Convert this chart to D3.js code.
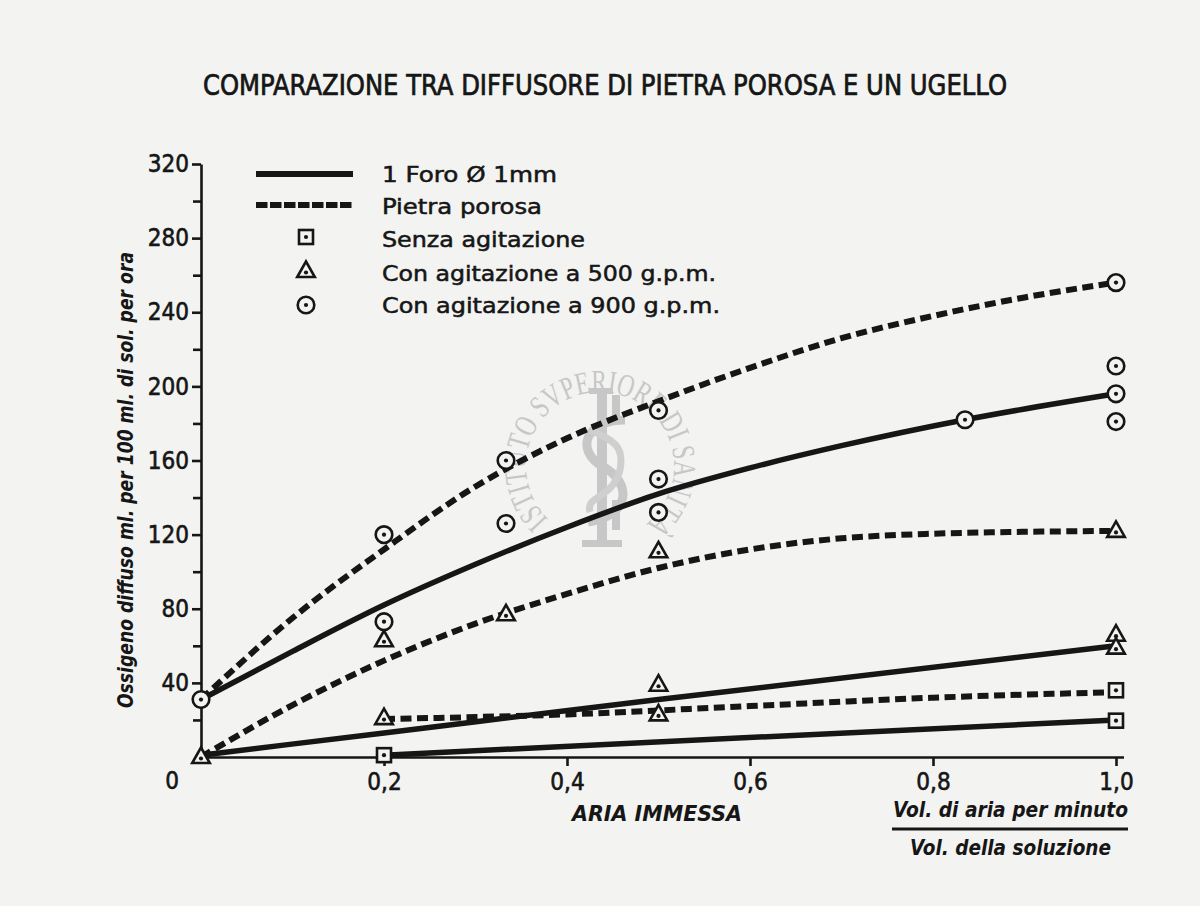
<!DOCTYPE html>
<html><head><meta charset="utf-8">
<script src="https://cdn.jsdelivr.net/npm/d3@7"></script>
<style>
body{margin:0;background:#f3f3f2}
svg{display:block}
</style>
</head><body>
<svg id="chart" width="1200" height="906"></svg>
<script>
// ---------- data ----------
const titleText = "COMPARAZIONE TRA DIFFUSORE DI PIETRA POROSA E UN UGELLO";
const yAxisTitle = "Ossigeno diffuso ml. per 100 ml. di sol. per ora";
const xAxisTitle = "ARIA IMMESSA";
const xUnitTop = "Vol. di aria per minuto";
const xUnitBottom = "Vol. della soluzione";

const xTicks = [0.2, 0.4, 0.6, 0.8, 1.0];
const xTickLabels = ["0,2", "0,4", "0,6", "0,8", "1,0"];
const yTicks = [40, 80, 120, 160, 200, 240, 280, 320];
const yMinorTicks = [20, 60, 100, 140, 180, 220, 260, 300];

// curves (solid = 1 Foro Ø1mm, dashed = Pietra porosa)
const foro900X = [0, 0.1, 0.2, 0.3, 0.4, 0.5, 0.6, 0.7, 0.835, 1.0];
const foro900Y = [31, 57, 82, 104, 124, 142, 156, 168, 182, 196];
const porosa900X = [0, 0.1, 0.2, 0.3, 0.4, 0.5, 0.6, 0.7, 0.8, 0.9, 1.0];
const porosa900Y = [31, 75, 112, 146, 172, 192, 210, 226, 238, 248, 256];
const porosa500X = [0, 0.1, 0.2, 0.3, 0.4, 0.5, 0.6, 0.7, 0.8, 0.9, 1.0];
const porosa500Y = [0, 28, 52, 72, 88, 102, 112, 118, 120.5, 121.5, 122];
const foro500X = [0, 0.2, 0.5, 1.0];
const foro500Y = [1, 13, 31, 60];
const porosaSenzaX = [0.2, 0.4, 0.6, 0.8, 1.0];
const porosaSenzaY = [20.5, 23, 27.5, 32, 35];
const foroSenzaX = [0.2, 1.0];
const foroSenzaY = [1, 20];

// measured points
const squareX = [0.2, 1.0, 1.0];
const squareY = [1, 36, 19.6];
const triangleX = [0, 0.2, 0.2, 1/3, 0.5, 0.5, 0.5, 1.0, 1.0, 1.0];
const triangleY = [0, 63, 21, 77, 111, 39, 23, 122, 66, 59];
const circleX = [0, 0.2, 0.2, 1/3, 1/3, 0.5, 0.5, 0.5, 0.835, 1.0, 1.0, 1.0, 1.0];
const circleY = [31, 120, 73, 160, 126, 187, 150, 132, 182, 256, 211, 196, 181];

const legendLabels = ["1 Foro \u00D8 1mm", "Pietra porosa", "Senza agitazione",
  "Con agitazione a 500 g.p.m.", "Con agitazione a 900 g.p.m."];

const watermarkText = "ISTITUTO SVPERIORE DI SANIT\u00C0";

// ---------- drawing ----------
const INK = "#161616";
const BG = "#f3f3f2";
const FONT = "'DejaVu Sans Condensed','DejaVu Sans',sans-serif";
const svg = d3.select("#chart");
svg.append("rect").attr("width", 1200).attr("height", 906).attr("fill", BG);

const x = d3.scaleLinear().domain([0, 1]).range([201, 1116]);
const y = d3.scaleLinear().domain([0, 320]).range([757, 164]);

// watermark
const wm = svg.append("g").attr("fill", "#c7c7c7");
{
  const cx = 600, cy = 466, r = 74;
  const a0 = 134 * Math.PI / 180, a1 = 412 * Math.PI / 180;
  const p0 = [cx + r * Math.cos(a0), cy + r * Math.sin(a0)];
  const p1 = [cx + r * Math.cos(a1), cy + r * Math.sin(a1)];
  svg.append("defs").append("path").attr("id", "wmArc")
    .attr("d", `M${p0[0]},${p0[1]} A${r},${r} 0 1 1 ${p1[0]},${p1[1]}`);
  wm.append("text").attr("font-family", "'Liberation Serif','DejaVu Serif',serif")
    .attr("font-size", 32)
    .append("textPath").attr("href", "#wmArc")
    .attr("textLength", 358).attr("lengthAdjust", "spacingAndGlyphs")
    .text(watermarkText);
  wm.append("rect").attr("x", 597).attr("y", 392).attr("width", 10).attr("height", 152);
  wm.append("rect").attr("x", 589).attr("y", 388).attr("width", 24).attr("height", 6);
  wm.append("rect").attr("x", 582).attr("y", 540).attr("width", 40).attr("height", 7);
  wm.append("rect").attr("x", 612).attr("y", 395).attr("width", 8).attr("height", 22);
  wm.append("rect").attr("x", 612).attr("y", 500).attr("width", 8).attr("height", 30);
  wm.append("path").attr("fill", "none").attr("stroke", "#c7c7c7").attr("stroke-width", 9)
    .attr("d", "M625,420 C585,420 575,450 602,466 C632,482 632,515 588,522");
  wm.append("path").attr("fill", "none").attr("stroke", "#cfcfcf").attr("stroke-width", 7)
    .attr("d", "M590,430 C612,440 625,445 620,470 C612,500 585,495 590,512");
}

// title
svg.append("text").attr("x", 203).attr("y", 95)
  .attr("font-family", FONT).attr("font-size", 28).attr("fill", INK)
  .attr("stroke", INK).attr("stroke-width", 0.7)
  .attr("textLength", 804).attr("lengthAdjust", "spacingAndGlyphs")
  .text(titleText);

// axes
svg.append("g").attr("transform", `translate(${x(0)},0)`)
  .call(d3.axisLeft(y).tickValues(yTicks).tickSize(9).tickSizeOuter(0).tickPadding(3)
    .tickFormat(d => String(d)));
svg.append("g").attr("transform", `translate(${x(0)},0)`)
  .call(d3.axisLeft(y).tickValues(yMinorTicks).tickSize(8).tickFormat(""))
  .select(".domain").remove();
const xAxis = svg.append("g").attr("transform", `translate(0,${y(0)})`)
  .call(d3.axisBottom(x).tickValues(xTicks).tickSize(9).tickSizeOuter(0).tickPadding(7)
    .tickFormat((d, i) => xTickLabels[i]));
svg.selectAll(".domain").attr("stroke", INK).attr("stroke-width", 2.6);
svg.selectAll(".tick line").attr("stroke", INK).attr("stroke-width", 2.6);
svg.selectAll(".tick text").attr("fill", INK).attr("font-family", FONT).attr("font-size", 24)
  .attr("stroke", INK).attr("stroke-width", 0.6);
xAxis.select(".domain").attr("d", `M${x(0)},0.5H${x(1) + 8}`);

// origin label
svg.append("text").attr("x", 172).attr("y", 789).attr("text-anchor", "middle")
  .attr("font-family", FONT).attr("font-size", 24).attr("fill", INK)
  .attr("stroke", INK).attr("stroke-width", 0.6).text("0");

// y axis title
svg.append("text").attr("transform", "translate(133,480) rotate(-90)")
  .attr("text-anchor", "middle").attr("font-family", FONT).attr("font-size", 22)
  .attr("font-weight", "bold").attr("font-style", "italic").attr("fill", INK)
  .attr("textLength", 456).attr("lengthAdjust", "spacingAndGlyphs")
  .text(yAxisTitle);

// x axis titles
svg.append("text").attr("x", 572).attr("y", 821)
  .attr("font-family", FONT).attr("font-size", 22).attr("font-weight", "bold")
  .attr("font-style", "italic").attr("fill", INK)
  .attr("textLength", 170).attr("lengthAdjust", "spacingAndGlyphs").text(xAxisTitle);
svg.append("text").attr("x", 893).attr("y", 817)
  .attr("font-family", FONT).attr("font-size", 21).attr("font-weight", "bold")
  .attr("font-style", "italic").attr("fill", INK)
  .attr("textLength", 235).attr("lengthAdjust", "spacingAndGlyphs").text(xUnitTop);
svg.append("line").attr("x1", 892).attr("x2", 1128).attr("y1", 829).attr("y2", 829)
  .attr("stroke", INK).attr("stroke-width", 3);
svg.append("text").attr("x", 910).attr("y", 855)
  .attr("font-family", FONT).attr("font-size", 21).attr("font-weight", "bold")
  .attr("font-style", "italic").attr("fill", INK)
  .attr("textLength", 201).attr("lengthAdjust", "spacingAndGlyphs").text(xUnitBottom);

// lines
const lineGen = (curve) => d3.line().x(d => x(d[0])).y(d => y(d[1])).curve(curve);
const zip = (xs, ys) => xs.map((v, i) => [v, ys[i]]);
const series = [
  {xs: foro900X, ys: foro900Y, dashed: false, curve: d3.curveMonotoneX},
  {xs: porosa900X, ys: porosa900Y, dashed: true, curve: d3.curveMonotoneX},
  {xs: porosa500X, ys: porosa500Y, dashed: true, curve: d3.curveMonotoneX},
  {xs: foro500X, ys: foro500Y, dashed: false, curve: d3.curveMonotoneX},
  {xs: porosaSenzaX, ys: porosaSenzaY, dashed: true, curve: d3.curveMonotoneX},
  {xs: foroSenzaX, ys: foroSenzaY, dashed: false, curve: d3.curveLinear}
];
svg.append("g").selectAll("path").data(series).join("path")
  .attr("d", s => lineGen(s.curve)(zip(s.xs, s.ys)))
  .attr("fill", "none").attr("stroke", INK)
  .attr("stroke-width", s => s.dashed ? 6 : 5.5)
  .attr("stroke-dasharray", s => s.dashed ? "11,5.5" : null);

// markers
function drawMarker(g, type, px, py) {
  const sw = 2.6;
  if (type === "square") {
    g.append("rect").attr("x", px - 7).attr("y", py - 7).attr("width", 14).attr("height", 14)
      .attr("fill", BG).attr("stroke", INK).attr("stroke-width", sw);
    g.append("circle").attr("cx", px).attr("cy", py).attr("r", 2.1).attr("fill", INK);
  } else if (type === "triangle") {
    g.append("path").attr("d", `M${px},${py - 9.5}L${px + 8.8},${py + 6}L${px - 8.8},${py + 6}Z`)
      .attr("fill", BG).attr("stroke", INK).attr("stroke-width", sw).attr("stroke-linejoin", "miter");
    g.append("circle").attr("cx", px).attr("cy", py + 1.5).attr("r", 2.1).attr("fill", INK);
  } else {
    g.append("circle").attr("cx", px).attr("cy", py).attr("r", 8.3)
      .attr("fill", BG).attr("stroke", INK).attr("stroke-width", sw);
    g.append("circle").attr("cx", px).attr("cy", py).attr("r", 2.1).attr("fill", INK);
  }
}
const mg = svg.append("g");
squareX.forEach((v, i) => drawMarker(mg, "square", x(v), y(squareY[i])));
triangleX.forEach((v, i) => drawMarker(mg, "triangle", x(v), y(triangleY[i])));
circleX.forEach((v, i) => drawMarker(mg, "circle", x(v), y(circleY[i])));

// legend
const lg = svg.append("g");
const legendRowY = [174, 205, 237, 271, 305];
const legendBase = [182, 214, 247, 281, 313];
const legendWidths = [175, 160, 203, 334, 338];
lg.append("line").attr("x1", 256).attr("x2", 353).attr("y1", legendRowY[0]).attr("y2", legendRowY[0])
  .attr("stroke", INK).attr("stroke-width", 6);
lg.append("line").attr("x1", 256).attr("x2", 353).attr("y1", legendRowY[1]).attr("y2", legendRowY[1])
  .attr("stroke", INK).attr("stroke-width", 6).attr("stroke-dasharray", "11.5,2.5");
drawMarker(lg, "square", 306, legendRowY[2]);
drawMarker(lg, "triangle", 306, legendRowY[3]);
drawMarker(lg, "circle", 306, legendRowY[4]);
lg.selectAll("text.lab").data(legendLabels).join("text").attr("class", "lab")
  .attr("x", 382).attr("y", (d, i) => legendBase[i])
  .attr("font-family", FONT).attr("font-size", 22).attr("fill", INK)
  .attr("stroke", INK).attr("stroke-width", 0.5)
  .attr("textLength", (d, i) => legendWidths[i]).attr("lengthAdjust", "spacingAndGlyphs")
  .text(d => d);
</script>
</body></html>
